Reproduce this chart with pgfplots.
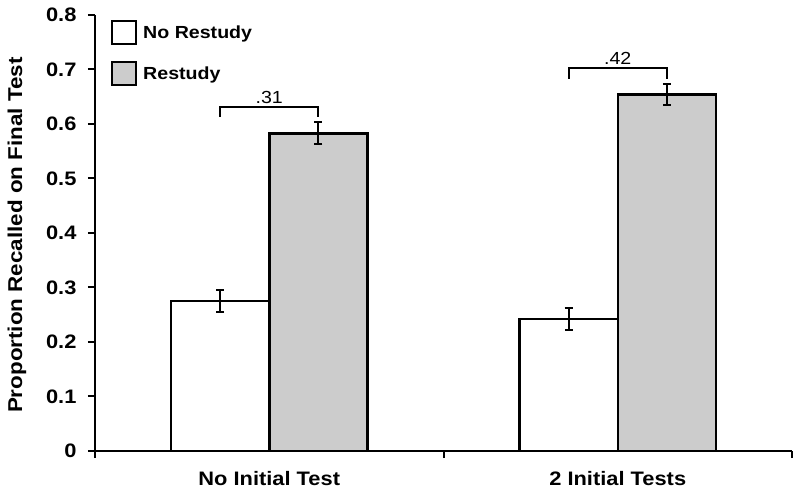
\documentclass[border=0pt]{standalone}
\usepackage{pgfplots}
\pgfplotsset{compat=1.18}
\usepackage{fontspec}
\setmainfont[FakeStretch=1.12]{Liberation Sans}
\begin{document}
\begin{tikzpicture}[x=1pt,y=1pt]
\path[use as bounding box] (0,0) rectangle (800,495);
\begin{axis}[
  at={(95pt,44pt)}, anchor=south west,
  scale only axis, width=697pt, height=436pt,
  xmin=-0.5, xmax=1.5, ymin=0, ymax=0.8,
  axis x line=bottom, axis y line=left,
  axis line style={-, line width=2.2pt},
  clip=false,
  ybar,
  ytick={0,0.1,0.2,0.3,0.4,0.5,0.6,0.7,0.8},
  yticklabels={0,0.1,0.2,0.3,0.4,0.5,0.6,0.7,0.8},
  xtick={-0.5,0.5,1.5},
  xticklabels={},
  extra x ticks={0,1},
  extra x tick labels={No Initial Test,2 Initial Tests},
  extra x tick style={major tick length=0pt, xticklabel style={yshift=-16.5pt}},
  tick align=outside,
  major tick length=7pt,
  tick style={line width=2pt, black},
  ticklabel style={font=\fontsize{19.5}{21}\selectfont\bfseries},
  yticklabel style={xshift=-8pt},
  ylabel={Proportion Recalled on Final Test},
  ylabel style={at={(axis description cs:-0.112,0.495)}, anchor=center, font=\fontsize{20}{22}\selectfont\bfseries},
  legend image code/.code={\draw[#1, line width=2pt] (0pt,-11.5pt) rectangle (24pt,11.5pt);},
  legend style={at={(axis description cs:0.023,0.99)}, anchor=north west, draw=none, fill=none,
    inner sep=0pt, row sep=15pt, font=\fontsize{17.5}{19}\selectfont\bfseries,
    nodes={inner sep=6pt}},
  legend cell align=left,
]
\addplot[ybar, bar width=0.282, bar shift=0pt, fill=white, draw=black, line width=2.5pt,
  error bars/.cd, y dir=both, y explicit,
  error bar style={line width=2pt, black, solid},
  error mark options={rotate=90, mark size=4pt, line width=2pt, black}]
  coordinates {(-0.141,0.275) +- (0,0.02) (0.859,0.242) +- (0,0.02)};
\addplot[ybar, bar width=0.282, bar shift=0pt, fill={rgb,255:red,204;green,204;blue,204}, draw=black, line width=2.5pt,
  error bars/.cd, y dir=both, y explicit,
  error bar style={line width=2pt, black, solid},
  error mark options={rotate=90, mark size=4pt, line width=2pt, black}]
  coordinates {(0.141,0.583) +- (0,0.02) (1.141,0.654) +- (0,0.02)};
\legend{No Restudy, Restudy}
\draw[line width=2pt] (axis cs:-0.141,0.613) -- (axis cs:-0.141,0.632) -- (axis cs:0.141,0.632) -- (axis cs:0.141,0.613);
\node[font=\fontsize{17.5}{19}\selectfont] at (axis cs:0,0.6495) {.31};
\draw[line width=2pt] (axis cs:0.859,0.683) -- (axis cs:0.859,0.702) -- (axis cs:1.141,0.702) -- (axis cs:1.141,0.683);
\node[font=\fontsize{17.5}{19}\selectfont] at (axis cs:1,0.720) {.42};
\end{axis}
\end{tikzpicture}
\end{document}
